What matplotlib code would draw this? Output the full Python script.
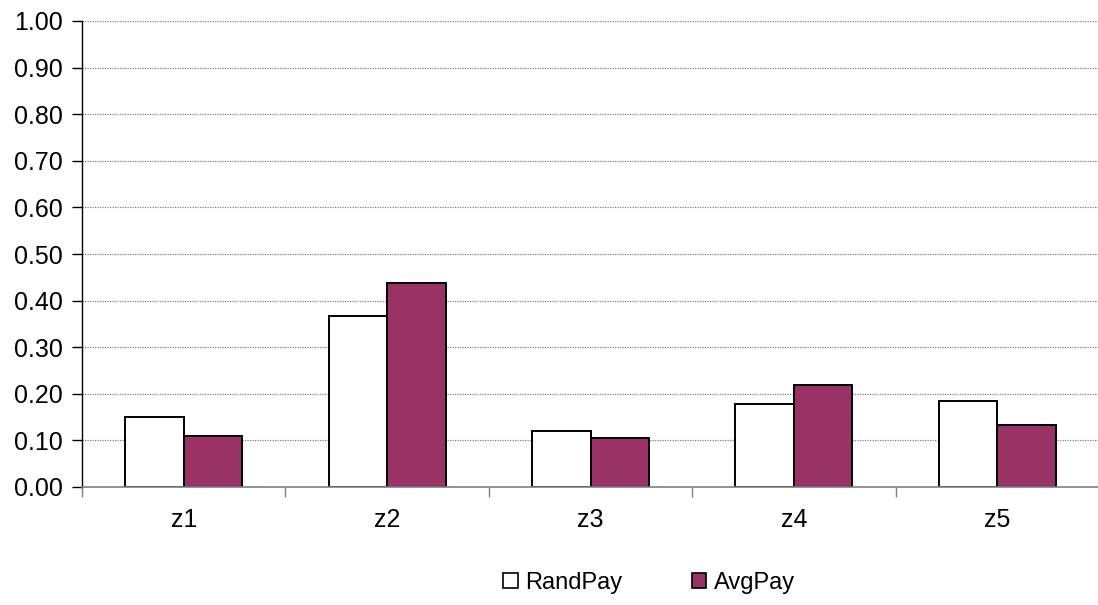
import matplotlib
matplotlib.use("Agg")
import matplotlib.pyplot as plt
import numpy as np
from matplotlib.patches import Patch

categories = ["z1", "z2", "z3", "z4", "z5"]
rand_pay = [0.150, 0.368, 0.121, 0.178, 0.185]
avg_pay = [0.109, 0.437, 0.105, 0.218, 0.134]
series_names = ["RandPay", "AvgPay"]
y_ticks = [0.0, 0.1, 0.2, 0.3, 0.4, 0.5, 0.6, 0.7, 0.8, 0.9, 1.0]

plt.rcParams["font.family"] = ["Liberation Sans", "DejaVu Sans"]

W, H = 1098, 605
fig = plt.figure(figsize=(W / 100, H / 100), dpi=100)
ax = fig.add_axes([82 / W, (H - 487) / H, (1099 - 82) / W, (487 - 21) / H])

x = np.arange(len(categories))
bw = 0.288
purple = "#993366"

ax.bar(x - bw / 2, rand_pay, width=bw, color="white", edgecolor="black", linewidth=1.4, zorder=3)
ax.bar(x + bw / 2, avg_pay, width=bw, color=purple, edgecolor="black", linewidth=1.4, zorder=3)

ax.set_xlim(-0.5, len(categories) - 0.5)
ax.set_ylim(0, 1.0)
ax.set_yticks(y_ticks)
ax.set_yticklabels([f"{v:.2f}" for v in y_ticks], fontsize=18)

ax.set_xticks(np.arange(len(categories) + 1) - 0.5)
ax.set_xticklabels([])
ax.set_xticks(x, minor=True)
ax.set_xticklabels(categories, minor=True, fontsize=18)
ax.tick_params(axis="x", which="minor", length=0, pad=15)
ax.tick_params(axis="x", which="major", length=7, width=1, color="#808080", direction="out")
ax.tick_params(axis="y", length=7, width=1, color="black", direction="out", pad=7)

for yv in y_ticks[1:]:
    ax.axhline(yv, color="#808080", linewidth=0.9, linestyle=(0, (1, 1)), zorder=1)

for side in ["top", "right"]:
    ax.spines[side].set_visible(False)
ax.spines["left"].set_color("black")
ax.spines["left"].set_linewidth(1.0)
ax.spines["bottom"].set_color("#808080")
ax.spines["bottom"].set_linewidth(1.2)
ax.spines["bottom"].set_zorder(4)

handles = [
    Patch(facecolor="white", edgecolor="black", linewidth=1.2),
    Patch(facecolor=purple, edgecolor="black", linewidth=1.2),
]
fig.legend(handles, series_names, loc="center", bbox_to_anchor=(649 / W, 1 - 583 / H),
           ncol=2, frameon=False, fontsize=17, handlelength=0.62, handleheight=0.62,
           handletextpad=0.3, columnspacing=2.95)

fig.savefig("out.png", dpi=100)
